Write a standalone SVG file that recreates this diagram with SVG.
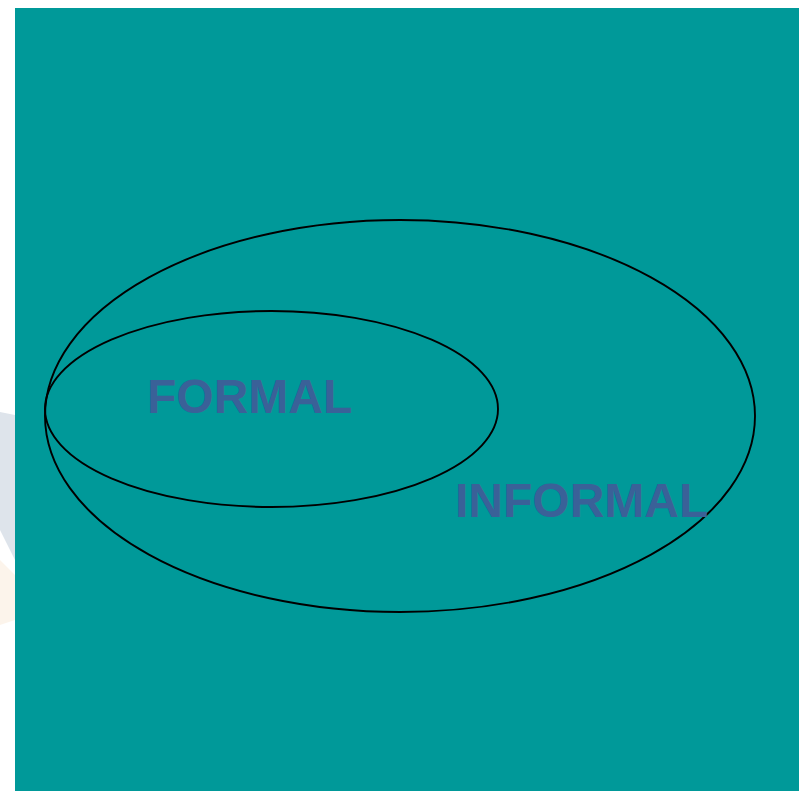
<svg xmlns="http://www.w3.org/2000/svg" width="799" height="791" viewBox="0 0 799 791">
<style>
.ring{fill:none;stroke:#000;stroke-width:1.9}
.lbl{font-family:"Liberation Sans",Arial,sans-serif;font-weight:bold;font-size:48px;fill:#3a6198}
</style>
<rect x="0" y="0" width="799" height="791" fill="#fff"/>
<polygon points="0,412 15,415 15,560 0,530" fill="#d6dde6" opacity="0.8"/>
<polygon points="0,560 15,575 15,620 0,625" fill="#fbf1e6" opacity="0.8"/>
<rect x="15" y="8" width="784" height="783" fill="#009999"/>
<g id="informal">
<ellipse class="ring" cx="400" cy="416" rx="355" ry="196"/>
<text class="lbl" x="455" y="517">INFORMAL</text>
</g>
<g id="formal">
<ellipse class="ring" cx="271.5" cy="409" rx="226.5" ry="98"/>
<text class="lbl" x="147" y="413">FORMAL</text>
</g>
<g id="connectors"/>
</svg>
